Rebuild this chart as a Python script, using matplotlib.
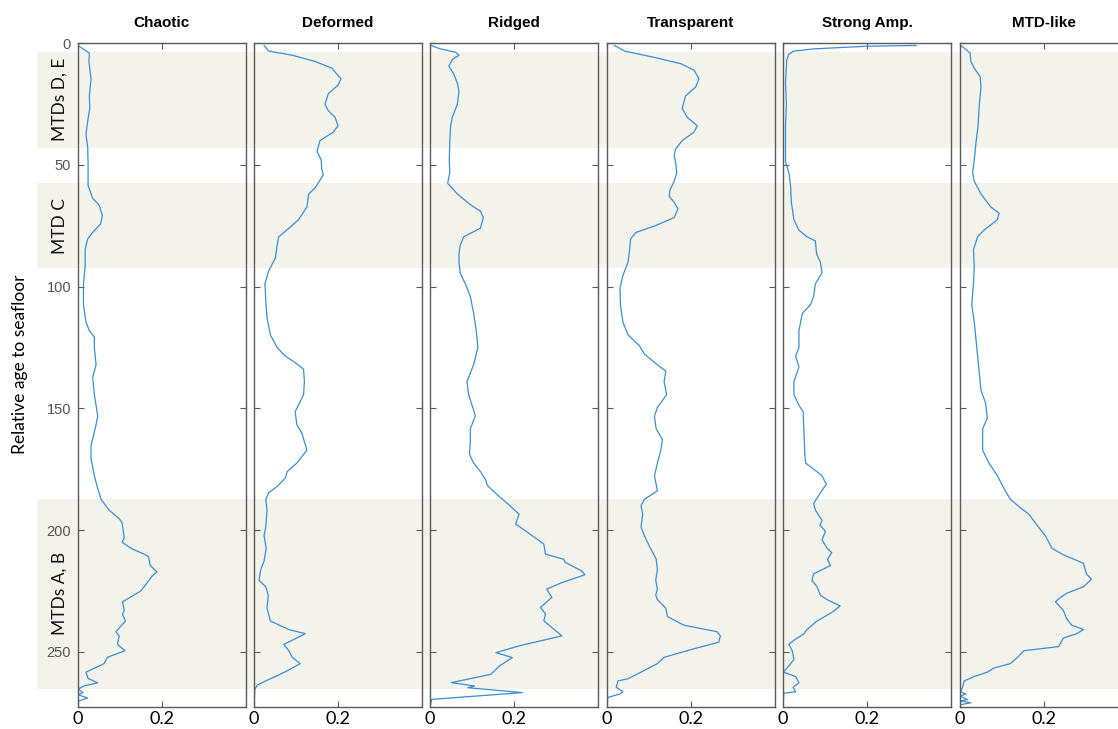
import matplotlib

matplotlib.use("Agg")
import matplotlib.pyplot as plt

# panel titles
titles = ["Chaotic", "Deformed", "Ridged", "Transparent", "Strong Amp.", "MTD-like"]

# shaded intervals (relative age) and their labels
band_ranges = [(3.4, 43.0), (57.4, 92.5), (187.2, 265.3)]
band_labels = ["MTDs D, E", "MTD C", "MTDs A, B"]

chaotic_depth = [0.9, 4.0, 7.5, 14.6, 21.6, 26.8, 32.1, 37.4, 42.6, 49.6, 58.4, 63.7, 66.4, 70.7,
                 74.2, 77.7, 80.4, 84.7, 91.8, 98.8, 107.5, 114.6, 118.1, 120.7, 125.1, 132.1,
                 137.4, 144.4, 153.2, 156.7, 165.4, 170.7, 177.7, 183.0, 187.4, 191.8, 195.3,
                 197.0, 203.2, 205.0, 207.5, 210.2, 211.1, 214.6, 217.2, 219.0, 222.5, 225.1,
                 229.5, 233.0, 234.7, 237.4, 241.8, 243.5, 247.0, 249.6, 252.3, 254.9, 258.4,
                 261.0, 262.8, 264.0, 265.4, 266.8, 267.7, 269.0, 270.4, 272.6]
chaotic_value = [0.0, 0.027, 0.026, 0.031, 0.027, 0.028, 0.023, 0.019, 0.023, 0.024, 0.024, 0.035,
                 0.050, 0.058, 0.054, 0.035, 0.023, 0.017, 0.017, 0.013, 0.013, 0.019, 0.027, 0.039,
                 0.039, 0.043, 0.035, 0.039, 0.047, 0.043, 0.031, 0.031, 0.039, 0.047, 0.055, 0.074,
                 0.098, 0.105, 0.110, 0.105, 0.126, 0.161, 0.168, 0.172, 0.188, 0.176, 0.161, 0.149,
                 0.106, 0.110, 0.106, 0.113, 0.090, 0.098, 0.094, 0.112, 0.070, 0.062, 0.019, 0.024,
                 0.047, 0.015, 0.0, 0.012, 0.0, 0.023, 0.0, 0.0]

deformed_depth = [0.9, 3.2, 4.9, 7.5, 10.2, 14.6, 17.2, 20.7, 25.1, 27.7, 30.4, 33.9, 36.5, 40.0,
                  44.4, 47.9, 51.4, 54.0, 59.3, 62.0, 67.2, 72.5, 76.0, 79.5, 83.0, 88.2, 93.5,
                  98.8, 105.8, 112.8, 119.8, 125.0, 128.6, 131.2, 133.9, 139.0, 144.4, 151.4,
                  156.7, 160.2, 167.2, 172.5, 176.0, 178.6, 182.1, 184.7, 187.4, 191.8, 198.8,
                  202.3, 207.5, 212.8, 216.3, 220.7, 223.3, 226.8, 232.1, 237.4, 240.9, 242.6,
                  245.3, 247.0, 249.6, 252.3, 254.9, 257.5, 260.2, 262.0, 263.7, 265.4, 272.6]
deformed_value = [0.024, 0.035, 0.091, 0.146, 0.185, 0.207, 0.200, 0.177, 0.169, 0.177, 0.193,
                  0.200, 0.189, 0.157, 0.150, 0.160, 0.161, 0.165, 0.146, 0.130, 0.126, 0.106,
                  0.083, 0.059, 0.055, 0.051, 0.035, 0.026, 0.028, 0.031, 0.039, 0.055, 0.075,
                  0.098, 0.118, 0.120, 0.118, 0.098, 0.102, 0.114, 0.126, 0.102, 0.079, 0.075,
                  0.055, 0.035, 0.028, 0.031, 0.028, 0.024, 0.029, 0.024, 0.016, 0.012, 0.028,
                  0.034, 0.031, 0.039, 0.083, 0.122, 0.091, 0.071, 0.083, 0.091, 0.110, 0.083,
                  0.051, 0.028, 0.008, 0.002, 0.0]

ridged_depth = [0.9, 2.3, 3.7, 4.9, 6.7, 9.3, 12.8, 16.3, 19.8, 25.1, 30.4, 33.9, 40.9, 47.9,
                53.2, 57.5, 61.9, 66.3, 69.0, 71.6, 76.0, 79.5, 83.0, 86.5, 90.0, 94.4, 98.8,
                104.0, 111.0, 118.0, 125.0, 132.0, 139.0, 144.4, 153.0, 158.4, 163.7, 169.0,
                172.5, 176.0, 179.5, 181.6, 186.9, 189.0, 193.5, 197.6, 200.3, 205.8, 209.9,
                212.0, 213.3, 216.8, 218.4, 221.6, 224.3, 227.7, 231.8, 234.5, 237.3, 243.5,
                247.6, 250.4, 252.4, 255.9, 259.3, 262.7, 264.1, 264.8, 266.8, 269.6, 272.6]
ridged_value = [0.002, 0.025, 0.061, 0.069, 0.053, 0.045, 0.057, 0.065, 0.069, 0.065, 0.053,
                0.049, 0.047, 0.046, 0.047, 0.042, 0.065, 0.096, 0.120, 0.127, 0.120, 0.080,
                0.072, 0.069, 0.069, 0.072, 0.084, 0.096, 0.104, 0.110, 0.114, 0.104, 0.088,
                0.092, 0.108, 0.096, 0.096, 0.094, 0.104, 0.120, 0.133, 0.136, 0.169, 0.184,
                0.212, 0.204, 0.227, 0.271, 0.275, 0.318, 0.322, 0.361, 0.369, 0.314, 0.278,
                0.290, 0.263, 0.275, 0.271, 0.314, 0.212, 0.157, 0.196, 0.165, 0.145, 0.051,
                0.106, 0.090, 0.220, 0.004, 0.0]

transparent_depth = [0.9, 3.2, 5.8, 8.4, 11.0, 14.6, 18.0, 21.6, 26.8, 30.4, 33.9, 36.5, 40.0,
                     43.5, 46.1, 49.6, 53.2, 56.7, 60.2, 62.8, 65.4, 68.0, 71.6, 75.1, 77.7,
                     80.4, 84.7, 90.0, 95.3, 100.5, 107.5, 114.6, 119.8, 124.2, 127.7, 132.1,
                     134.7, 139.0, 144.4, 149.6, 153.2, 158.4, 162.8, 167.2, 172.5, 177.7, 183.9,
                     187.4, 190.0, 193.5, 198.8, 202.3, 206.7, 211.9, 216.3, 220.7, 224.2, 226.8,
                     228.6, 232.1, 235.6, 239.1, 241.8, 243.5, 246.1, 248.8, 252.3, 254.9, 258.4,
                     261.1, 262.0, 264.6, 266.5, 267.4, 268.8, 272.6]
transparent_value = [0.018, 0.042, 0.113, 0.176, 0.207, 0.219, 0.211, 0.187, 0.179, 0.191, 0.215,
                     0.207, 0.179, 0.163, 0.160, 0.164, 0.166, 0.160, 0.150, 0.148, 0.160, 0.169,
                     0.160, 0.113, 0.069, 0.056, 0.054, 0.050, 0.038, 0.031, 0.032, 0.038, 0.050,
                     0.077, 0.089, 0.120, 0.140, 0.136, 0.142, 0.120, 0.113, 0.117, 0.132, 0.128,
                     0.120, 0.113, 0.120, 0.089, 0.081, 0.085, 0.081, 0.089, 0.101, 0.117, 0.120,
                     0.116, 0.120, 0.116, 0.120, 0.140, 0.144, 0.183, 0.262, 0.270, 0.266, 0.207,
                     0.136, 0.120, 0.081, 0.050, 0.026, 0.022, 0.038, 0.030, 0.002, 0.0]

strong_depth = [0.9, 1.2, 2.3, 3.2, 4.4, 6.7, 16.3, 25.1, 33.9, 44.4, 48.8, 53.2, 58.4, 65.4,
                72.5, 76.8, 79.5, 81.2, 86.5, 90.0, 94.4, 98.8, 104.0, 107.5, 111.0, 118.0,
                125.0, 128.6, 133.0, 139.0, 144.4, 148.8, 151.4, 160.2, 169.0, 172.5, 175.0,
                177.7, 181.2, 184.7, 189.1, 191.8, 196.1, 198.0, 200.5, 204.0, 207.5, 209.3,
                212.0, 214.6, 218.0, 220.7, 223.3, 226.8, 228.6, 231.2, 233.9, 237.4, 240.9,
                242.6, 245.3, 247.0, 249.6, 253.2, 255.8, 258.4, 260.2, 262.8, 264.6, 266.5,
                267.0, 272.6]
strong_value = [0.317, 0.199, 0.073, 0.026, 0.014, 0.009, 0.006, 0.008, 0.006, 0.006, 0.006,
                0.014, 0.018, 0.020, 0.026, 0.038, 0.057, 0.077, 0.080, 0.089, 0.093, 0.077,
                0.073, 0.065, 0.046, 0.038, 0.038, 0.030, 0.038, 0.026, 0.026, 0.038, 0.048,
                0.050, 0.052, 0.054, 0.073, 0.093, 0.103, 0.089, 0.073, 0.077, 0.093, 0.088,
                0.101, 0.093, 0.105, 0.116, 0.106, 0.113, 0.073, 0.069, 0.081, 0.089, 0.105,
                0.136, 0.116, 0.081, 0.057, 0.050, 0.026, 0.014, 0.022, 0.026, 0.014, 0.001,
                0.030, 0.038, 0.024, 0.030, 0.002, 0.0]

mtd_depth = [0.9, 4.0, 7.5, 10.2, 13.7, 18.0, 25.1, 33.9, 40.9, 47.9, 53.2, 56.7, 61.9, 67.2,
             69.8, 72.5, 76.8, 79.5, 84.7, 91.8, 98.8, 107.5, 114.6, 121.6, 128.6, 135.6,
             142.6, 147.9, 154.0, 158.4, 167.2, 172.5, 177.7, 183.0, 187.4, 190.9, 193.5,
             197.9, 202.3, 207.5, 210.2, 211.9, 213.7, 218.0, 220.2, 223.3, 226.0, 227.7,
             229.5, 233.0, 236.5, 239.1, 240.9, 242.6, 244.4, 247.9, 249.6, 252.3, 254.9,
             256.7, 258.4, 260.2, 262.0, 264.6, 266.5, 267.4, 268.2, 269.7, 270.2, 271.0,
             271.8, 272.6]
mtd_value = [0.002, 0.024, 0.026, 0.034, 0.048, 0.050, 0.046, 0.043, 0.038, 0.034, 0.030, 0.034,
             0.050, 0.073, 0.093, 0.089, 0.057, 0.042, 0.032, 0.034, 0.032, 0.028, 0.034, 0.038,
             0.042, 0.046, 0.050, 0.061, 0.065, 0.054, 0.054, 0.069, 0.089, 0.105, 0.120, 0.144,
             0.164, 0.183, 0.203, 0.219, 0.246, 0.270, 0.294, 0.301, 0.313, 0.294, 0.254, 0.239,
             0.227, 0.246, 0.254, 0.266, 0.294, 0.278, 0.246, 0.235, 0.152, 0.137, 0.120, 0.081,
             0.065, 0.034, 0.010, 0.006, 0.002, 0.014, 0.0, 0.018, 0.0, 0.026, 0.0, 0.0]

profiles = [
    (chaotic_depth, chaotic_value),
    (deformed_depth, deformed_value),
    (ridged_depth, ridged_value),
    (transparent_depth, transparent_value),
    (strong_depth, strong_value),
    (mtd_depth, mtd_value),
]

y_ticks = [0, 50, 100, 150, 200, 250]
x_ticks = [0, 0.2]
x_tick_labels = ["0", "0.2"]

W, H = 1118, 729
LINE = "#3b8ed4"
SHADE = "#f3f2eb"
FRAME = "#5a5a5a"
Y_MAX = 272.6

fig = plt.figure(figsize=(W / 100, H / 100), dpi=100)

top_px, bottom_px = 43.3, 706.7
ax_h = (bottom_px - top_px) / H
ax_b = (H - bottom_px) / H

# background strip with the shaded intervals, spanning across all panels
bg = fig.add_axes([37 / W, ax_b, (W - 37) / W, ax_h])
bg.set_ylim(Y_MAX, 0)
bg.set_xlim(0, 1)
for (y0, y1), label in zip(band_ranges, band_labels):
    bg.axhspan(y0, y1, color=SHADE, lw=0)
    bg.text(23 / (W - 37), (y0 + y1) / 2, label, rotation=90, ha="center", va="center",
            fontsize=12.5, family="Lato", color="#111111")
bg.axis("off")

lefts = [78, 254, 430, 607, 783, 960]
width = 168
for i, (title, (depth, value)) in enumerate(zip(titles, profiles)):
    ax = fig.add_axes([lefts[i] / W, ax_b, width / W, ax_h])
    ax.set_facecolor("none")
    ax.plot(value, depth, color=LINE, lw=0.9)
    ax.set_xlim(0, 0.4)
    ax.set_ylim(Y_MAX, 0)
    ax.set_xticks(x_ticks)
    ax.set_xticklabels(x_tick_labels, fontsize=13, family="Lato")
    ax.set_yticks(y_ticks)
    ax.tick_params(direction="in", length=4, width=0.8, color=FRAME, top=True, right=True)
    ax.tick_params(axis="x", pad=3)
    ax.tick_params(axis="y", pad=5, labelsize=10.5, labelcolor="#555555")
    if i > 0:
        ax.set_yticklabels([])
    else:
        for lab in ax.get_yticklabels():
            lab.set_family("Liberation Sans")
    for sp in ax.spines.values():
        sp.set_color(FRAME)
        sp.set_linewidth(1.0)
    ax.set_title(title, fontsize=11, fontweight="bold", family="Liberation Sans", pad=12)

fig.text(20 / W, 0.5, "Relative age to seafloor", rotation=90, ha="center", va="center",
         fontsize=12.5, family="Lato")

fig.savefig("out.png", dpi=100)
